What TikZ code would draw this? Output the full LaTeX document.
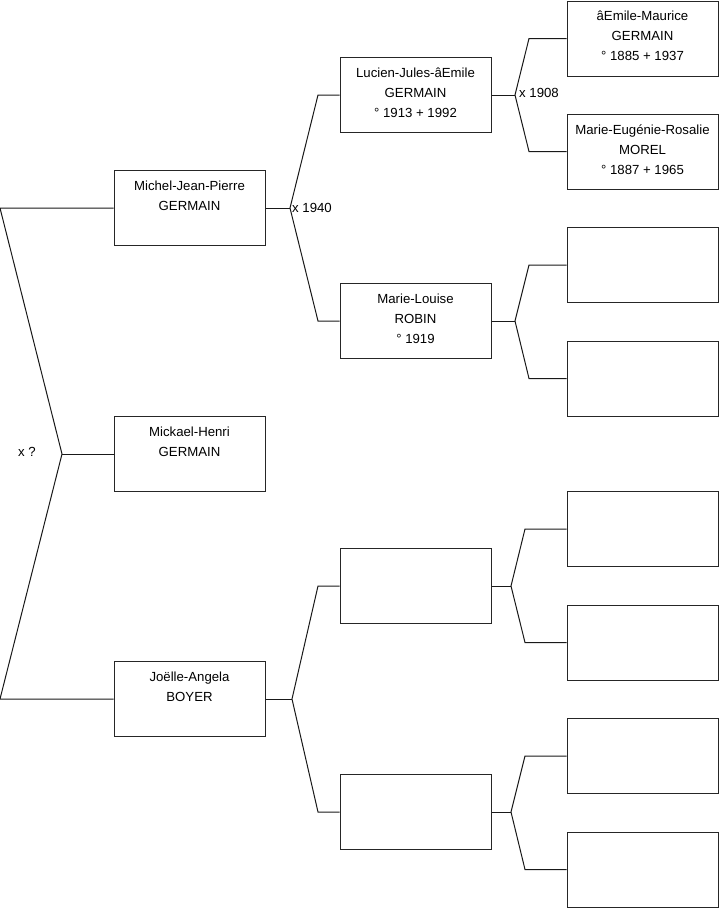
\documentclass[tikz,border=0pt]{standalone}
\usepackage{fontspec}
\setmainfont{Liberation Sans}
\begin{document}
\begin{tikzpicture}[x=1pt,y=-1pt,
  person/.style={draw=black!85,line width=1pt,minimum width=151pt,minimum height=75pt,inner sep=0pt},
  ptext/.style={anchor=north,align=center,inner sep=0pt,font=\fontsize{13.2}{20}\selectfont},
  link/.style={line width=1pt,black!90},
  lbl/.style={inner sep=0pt,font=\fontsize{13.2}{14}\selectfont}]
\useasboundingbox (0,0) rectangle (719,908);
% boxes
\node[person] (A) at (189.5,208) {};
\node[person] (B) at (189.5,454) {};
\node[person] (C) at (189.5,699) {};
\node[person] (D) at (415.5,95) {};
\node[person] (E) at (415.5,321) {};
\node[person] (F) at (415.5,586) {};
\node[person] (G) at (415.5,812) {};
\node[person] (H1) at (642.5,38.5) {};
\node[person] (H2) at (642.5,151.5) {};
\node[person] (H3) at (642.5,265) {};
\node[person] (H4) at (642.5,378.5) {};
\node[person] (H5) at (642.5,529) {};
\node[person] (H6) at (642.5,642.5) {};
\node[person] (H7) at (642.5,756) {};
\node[person] (H8) at (642.5,869.5) {};
% texts
\node[ptext] (tA) at ([yshift=-10.6pt]A.north) {Michel-Jean-Pierre\\GERMAIN};
\node[ptext] (tB) at ([yshift=-10.6pt]B.north) {Mickael-Henri\\GERMAIN};
\node[ptext] (tC) at ([yshift=-10.6pt]C.north) {Joëlle-Angela\\BOYER};
\node[ptext] (tD) at ([yshift=-10.6pt]D.north) {Lucien-Jules-âEmile\\GERMAIN\\° 1913 + 1992};
\node[ptext] (tE) at ([yshift=-10.6pt]E.north) {Marie-Louise\\ROBIN\\° 1919};
\node[ptext] (tH1) at ([yshift=-10.6pt]H1.north) {âEmile-Maurice\\GERMAIN\\° 1885 + 1937};
\node[ptext] (tH2) at ([yshift=-10.6pt]H2.north) {Marie-Eugénie-Rosalie\\MOREL\\° 1887 + 1965};
% branch coordinates
\coordinate (r0a) at (0,208);
\coordinate (r0c) at (0,699);
\coordinate (r) at (62,454);
\coordinate (a) at (290,208);
\coordinate (a1) at (318,95);
\coordinate (a2) at (318,321);
\coordinate (c) at (292,699);
\coordinate (c1) at (318,586);
\coordinate (c2) at (318,812);
\coordinate (d) at (515,95);
\coordinate (d1) at (529,38.5);
\coordinate (d2) at (529,151.5);
\coordinate (e) at (515,321);
\coordinate (e1) at (529,265);
\coordinate (e2) at (529,378.5);
\coordinate (f) at (511,586);
\coordinate (f1) at (525,529);
\coordinate (f2) at (525,642.5);
\coordinate (g) at (511,812);
\coordinate (g1) at (525,756);
\coordinate (g2) at (525,869.5);
% connectors
\draw[link] (A.west) -- (r0a) -- (r) -- (r0c) -- (C.west);
\draw[link] (r) -- (B.west);
\draw[link] (A.east) -- (a);
\draw[link] (D.west) -- (a1) -- (a) -- (a2) -- (E.west);
\draw[link] (C.east) -- (c);
\draw[link] (F.west) -- (c1) -- (c) -- (c2) -- (G.west);
\draw[link] (D.east) -- (d);
\draw[link] (H1.west) -- (d1) -- (d) -- (d2) -- (H2.west);
\draw[link] (E.east) -- (e);
\draw[link] (H3.west) -- (e1) -- (e) -- (e2) -- (H4.west);
\draw[link] (F.east) -- (f);
\draw[link] (H5.west) -- (f1) -- (f) -- (f2) -- (H6.west);
\draw[link] (G.east) -- (g);
\draw[link] (H7.west) -- (g1) -- (g) -- (g2) -- (H8.west);
% labels
\node[lbl,anchor=west] (l1) at (292,207.5) {x 1940};
\node[lbl,anchor=west] (l2) at (519,92.5) {x 1908};
\node[lbl] (l3) at (27,451.5) {x ?};
\end{tikzpicture}
\end{document}
